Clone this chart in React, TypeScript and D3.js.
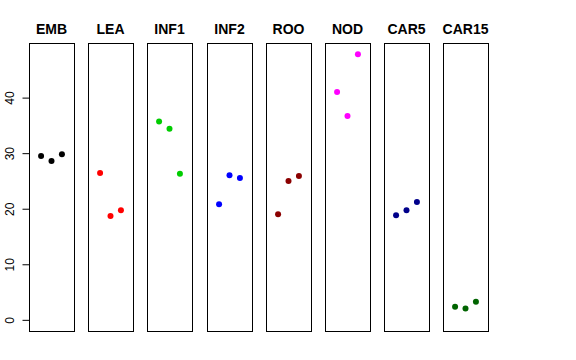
import React, { useEffect, useRef } from 'react';
import * as d3 from 'd3';

// panel names, point colours and the three values in each panel
const groups = ['EMB', 'LEA', 'INF1', 'INF2', 'ROO', 'NOD', 'CAR5', 'CAR15'];
const colors = ['#000000', '#FF0000', '#00CD00', '#0000FF', '#8B0000', '#FF00FF', '#00008B', '#006400'];
const values: number[][] = [
  [29.6, 28.7, 29.9],
  [26.5, 18.8, 19.8],
  [35.8, 34.5, 26.4],
  [20.9, 26.1, 25.6],
  [19.1, 25.1, 26.0],
  [41.1, 36.8, 47.9],
  [18.9, 19.8, 21.3],
  [2.45, 2.15, 3.35],
];
const yTicks = [0, 10, 20, 30, 40];

const App = () => {
  const ref = useRef<SVGSVGElement>(null);

  useEffect(() => {
    const svg = d3.select(ref.current);
    svg.selectAll('*').remove();

    const top = 43, bottom = 331;
    const font = '"Liberation Sans", Arial, Helvetica, sans-serif';

    // y limits 0..48 with R's 4% extension
    const y = d3.scaleLinear().domain([-1.92, 49.92]).range([bottom, top]);

    const band = d3.scaleBand<string>()
      .domain(groups)
      .range([29, 488])
      .paddingInner(0.244)
      .paddingOuter(0);

    groups.forEach((g, i) => {
      const x0 = Math.round(band(g) || 0);
      const w = Math.round(band.bandwidth());
      const x = d3.scaleLinear().domain([-0.16, 4.16]).range([x0, x0 + w]);

      const p = svg.append('g');

      p.append('rect')
        .attr('x', x0 + 0.5)
        .attr('y', top + 0.5)
        .attr('width', w)
        .attr('height', bottom - top)
        .attr('fill', 'none')
        .attr('stroke', '#000')
        .attr('stroke-width', 1);

      p.append('text')
        .attr('x', x0 + w / 2)
        .attr('y', 34)
        .attr('text-anchor', 'middle')
        .style('font-family', font)
        .style('font-size', '14px')
        .style('font-weight', 'bold')
        .text(g);

      p.selectAll('circle')
        .data(values[i])
        .enter()
        .append('circle')
        .attr('cx', (_d, j) => x(j + 1))
        .attr('cy', d => y(d))
        .attr('r', 3)
        .attr('fill', colors[i]);
    });

    // left y axis
    const ax = svg.append('g');
    const axX = 29.5;
    ax.append('line')
      .attr('x1', axX).attr('x2', axX)
      .attr('y1', y(0)).attr('y2', y(40))
      .attr('stroke', '#000');
    yTicks.forEach(t => {
      ax.append('line')
        .attr('x1', axX - 7).attr('x2', axX)
        .attr('y1', y(t)).attr('y2', y(t))
        .attr('stroke', '#000');
      ax.append('text')
        .attr('transform', `translate(13.5,${y(t)}) rotate(-90)`)
        .attr('text-anchor', 'middle')
        .style('font-family', font)
        .style('font-size', '12px')
        .text(t);
    });
  }, []);

  return (
    <svg
      ref={ref}
      width={576}
      height={360}
      style={{ position: 'absolute', left: 0, top: 0, background: '#fff' }}
    />
  );
};

export default App;
